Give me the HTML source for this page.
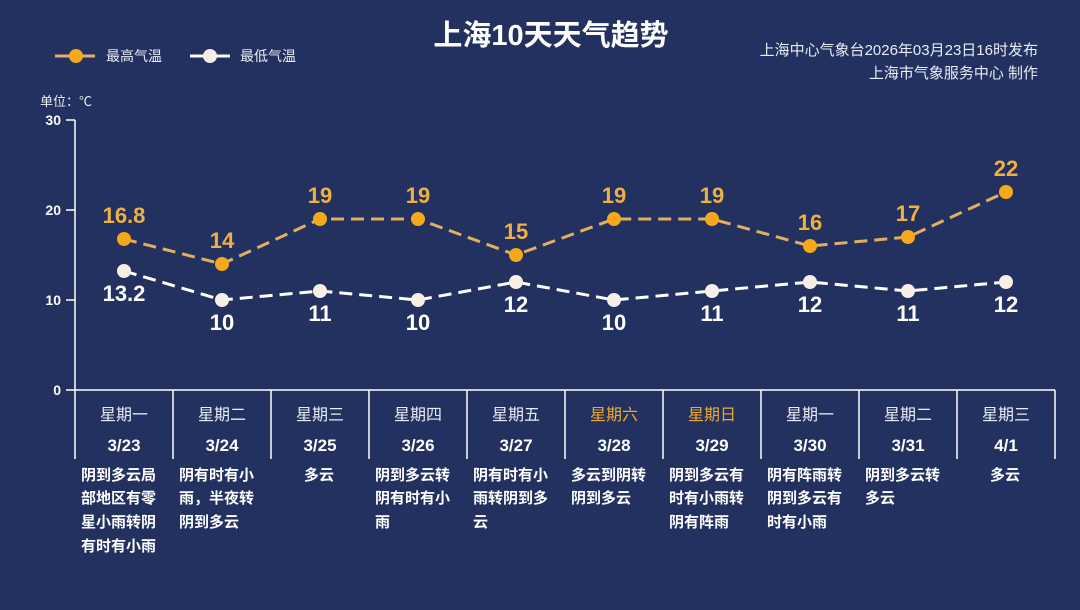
<!DOCTYPE html>
<html><head><meta charset="utf-8"><style>
html,body{margin:0;padding:0;background:#22315f;}
svg{display:block;font-family:"Liberation Sans","Noto Sans CJK SC",sans-serif;}
</style></head><body>
<svg width="1080" height="610" viewBox="0 0 1080 610">
<rect width="1080" height="610" fill="#22315f"/>
<text x="551" y="45" font-size="29" font-weight="bold" fill="#fff" text-anchor="middle">上海10天天气趋势</text>
<g fill="#e8ecf4" font-size="15">
<text x="1038" y="55" text-anchor="end">上海中心气象台2026年03月23日16时发布</text>
<text x="1038" y="78" text-anchor="end">上海市气象服务中心  制作</text>
</g>
<line x1="55" y1="56" x2="95" y2="56" stroke="#e0b070" stroke-width="3"/>
<circle cx="76" cy="56" r="7" fill="#f5a81c"/>
<text x="106" y="61" font-size="14" fill="#e8ecf4">最高气温</text>
<line x1="190" y1="56" x2="230" y2="56" stroke="#fff" stroke-width="3"/>
<circle cx="210" cy="56" r="7" fill="#f5efe6"/>
<text x="240" y="61" font-size="14" fill="#e8ecf4">最低气温</text>
<text x="40" y="106" font-size="13" fill="#e8ecf4">单位：℃</text>
<g stroke="#fff" stroke-width="1.5">
<line x1="75" y1="120" x2="75" y2="459"/>
<line x1="66" y1="120" x2="75" y2="120"/>
<line x1="66" y1="210" x2="75" y2="210"/>
<line x1="66" y1="300" x2="75" y2="300"/>
<line x1="66" y1="390" x2="1055" y2="390"/>
<line x1="173" y1="390" x2="173" y2="459"/>
<line x1="271" y1="390" x2="271" y2="459"/>
<line x1="369" y1="390" x2="369" y2="459"/>
<line x1="467" y1="390" x2="467" y2="459"/>
<line x1="565" y1="390" x2="565" y2="459"/>
<line x1="663" y1="390" x2="663" y2="459"/>
<line x1="761" y1="390" x2="761" y2="459"/>
<line x1="859" y1="390" x2="859" y2="459"/>
<line x1="957" y1="390" x2="957" y2="459"/>
<line x1="1055" y1="390" x2="1055" y2="459"/>
</g>
<g fill="#fff" font-size="14" font-weight="bold" text-anchor="end">
<text x="61" y="125">30</text><text x="61" y="215">20</text><text x="61" y="305">10</text><text x="61" y="395">0</text>
</g>
<polyline points="124,239 222,264 320,219 418,219 516,255 614,219 712,219 810,246 908,237 1006,192" fill="none" stroke="#e0b060" stroke-width="3" stroke-dasharray="13,7"/>
<polyline points="124,271 222,300 320,291 418,300 516,282 614,300 712,291 810,282 908,291 1006,282" fill="none" stroke="#fff" stroke-width="3" stroke-dasharray="13,7"/>
<g fill="#f5a81c">
<circle cx="124" cy="239" r="7"/><circle cx="222" cy="264" r="7"/><circle cx="320" cy="219" r="7"/><circle cx="418" cy="219" r="7"/><circle cx="516" cy="255" r="7"/><circle cx="614" cy="219" r="7"/><circle cx="712" cy="219" r="7"/><circle cx="810" cy="246" r="7"/><circle cx="908" cy="237" r="7"/><circle cx="1006" cy="192" r="7"/>
</g>
<g fill="#f5efe6">
<circle cx="124" cy="271" r="7"/><circle cx="222" cy="300" r="7"/><circle cx="320" cy="291" r="7"/><circle cx="418" cy="300" r="7"/><circle cx="516" cy="282" r="7"/><circle cx="614" cy="300" r="7"/><circle cx="712" cy="291" r="7"/><circle cx="810" cy="282" r="7"/><circle cx="908" cy="291" r="7"/><circle cx="1006" cy="282" r="7"/>
</g>
<g fill="#f0b040" font-size="22" font-weight="bold" text-anchor="middle">
<text x="124" y="223">16.8</text><text x="222" y="248">14</text><text x="320" y="203">19</text><text x="418" y="203">19</text><text x="516" y="239">15</text><text x="614" y="203">19</text><text x="712" y="203">19</text><text x="810" y="230">16</text><text x="908" y="221">17</text><text x="1006" y="176">22</text>
</g>
<g fill="#fff" font-size="22" font-weight="bold" text-anchor="middle">
<text x="124" y="301">13.2</text><text x="222" y="330">10</text><text x="320" y="321">11</text><text x="418" y="330">10</text><text x="516" y="312">12</text><text x="614" y="330">10</text><text x="712" y="321">11</text><text x="810" y="312">12</text><text x="908" y="321">11</text><text x="1006" y="312">12</text>
</g>
<g fill="#e8ecf4" font-size="16" text-anchor="middle">
<text x="124" y="420">星期一</text><text x="222" y="420">星期二</text><text x="320" y="420">星期三</text><text x="418" y="420">星期四</text><text x="516" y="420">星期五</text><text x="614" y="420" fill="#f0a830">星期六</text><text x="712" y="420" fill="#f0a830">星期日</text><text x="810" y="420">星期一</text><text x="908" y="420">星期二</text><text x="1006" y="420">星期三</text>
</g>
<g fill="#fff" font-size="17" font-weight="bold" text-anchor="middle">
<text x="124" y="451">3/23</text><text x="222" y="451">3/24</text><text x="320" y="451">3/25</text><text x="418" y="451">3/26</text><text x="516" y="451">3/27</text><text x="614" y="451">3/28</text><text x="712" y="451">3/29</text><text x="810" y="451">3/30</text><text x="908" y="451">3/31</text><text x="1006" y="451">4/1</text>
</g>
<g fill="#fff" font-size="15" font-weight="bold">
<text x="81" y="480">阴到多云局</text><text x="81" y="503">部地区有零</text><text x="81" y="527">星小雨转阴</text><text x="81" y="551">有时有小雨</text>
<text x="179" y="480">阴有时有小</text><text x="179" y="503">雨，半夜转</text><text x="179" y="527">阴到多云</text>
<text x="304" y="480">多云</text>
<text x="375" y="480">阴到多云转</text><text x="375" y="503">阴有时有小</text><text x="375" y="527">雨</text>
<text x="473" y="480">阴有时有小</text><text x="473" y="503">雨转阴到多</text><text x="473" y="527">云</text>
<text x="571" y="480">多云到阴转</text><text x="571" y="503">阴到多云</text>
<text x="669" y="480">阴到多云有</text><text x="669" y="503">时有小雨转</text><text x="669" y="527">阴有阵雨</text>
<text x="767" y="480">阴有阵雨转</text><text x="767" y="503">阴到多云有</text><text x="767" y="527">时有小雨</text>
<text x="865" y="480">阴到多云转</text><text x="865" y="503">多云</text>
<text x="990" y="480">多云</text>
</g>
</svg>
</body></html>
